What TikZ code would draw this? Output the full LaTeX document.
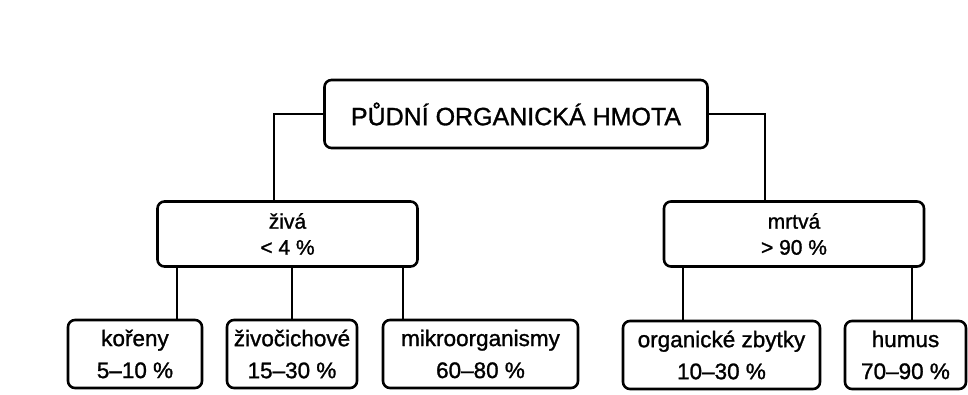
\documentclass[tikz,border=0pt]{standalone}
\usepackage{fontspec}
\setmainfont{Liberation Sans}[FakeBold=1.2]

\tikzset{
  box/.style={draw,line width=2.6pt,rounded corners=7pt,align=center,inner sep=0pt},
  topbox/.style={box,minimum width=383pt,minimum height=68pt,font=\fontsize{25}{30}\selectfont},
  midbox/.style={box,minimum width=260pt,minimum height=65pt,font=\fontsize{21}{26}\selectfont},
  leafbox/.style={box,minimum height=68pt,font=\fontsize{22.5}{32}\selectfont},
  link/.style={line width=2pt}
}

\begin{document}
\begin{tikzpicture}[x=1pt,y=-1pt]
\useasboundingbox (0,0) rectangle (968,394);
\node[topbox] (soil) at (516,114) {PŮDNÍ ORGANICKÁ HMOTA};
\node[midbox] (live) at (287.5,234) {živá\\< 4 \%};
\node[midbox] (dead) at (794,234) {mrtvá\\> 90 \%};
\node[leafbox,minimum width=134pt] (roots) at (135,354) {kořeny\\5--10 \%};
\node[leafbox,minimum width=130pt] (fauna) at (292,354) {živočichové\\15--30 \%};
\node[leafbox,minimum width=195pt] (micro) at (480.5,354) {mikroorganismy\\60--80 \%};
\node[leafbox,minimum width=197pt] (rest) at (721.5,355) {organické zbytky\\10--30 \%};
\node[leafbox,minimum width=121pt] (humus) at (905.5,355) {humus\\70--90 \%};

\draw[link] (soil.west) -| ([xshift=-13.5pt]live.north);
\draw[link] (soil.east) -| ([xshift=-29pt]dead.north);
\draw[link] ([xshift=42pt]roots.north) -- ([xshift=42pt]roots.north |- live.south);
\draw[link] (fauna.north) -- (fauna.north |- live.south);
\draw[link] ([xshift=-77.5pt]micro.north) -- ([xshift=-77.5pt]micro.north |- live.south);
\draw[link] ([xshift=-38.5pt]rest.north) -- ([xshift=-38.5pt]rest.north |- dead.south);
\draw[link] ([xshift=6.5pt]humus.north) -- ([xshift=6.5pt]humus.north |- dead.south);
\end{tikzpicture}
\end{document}
